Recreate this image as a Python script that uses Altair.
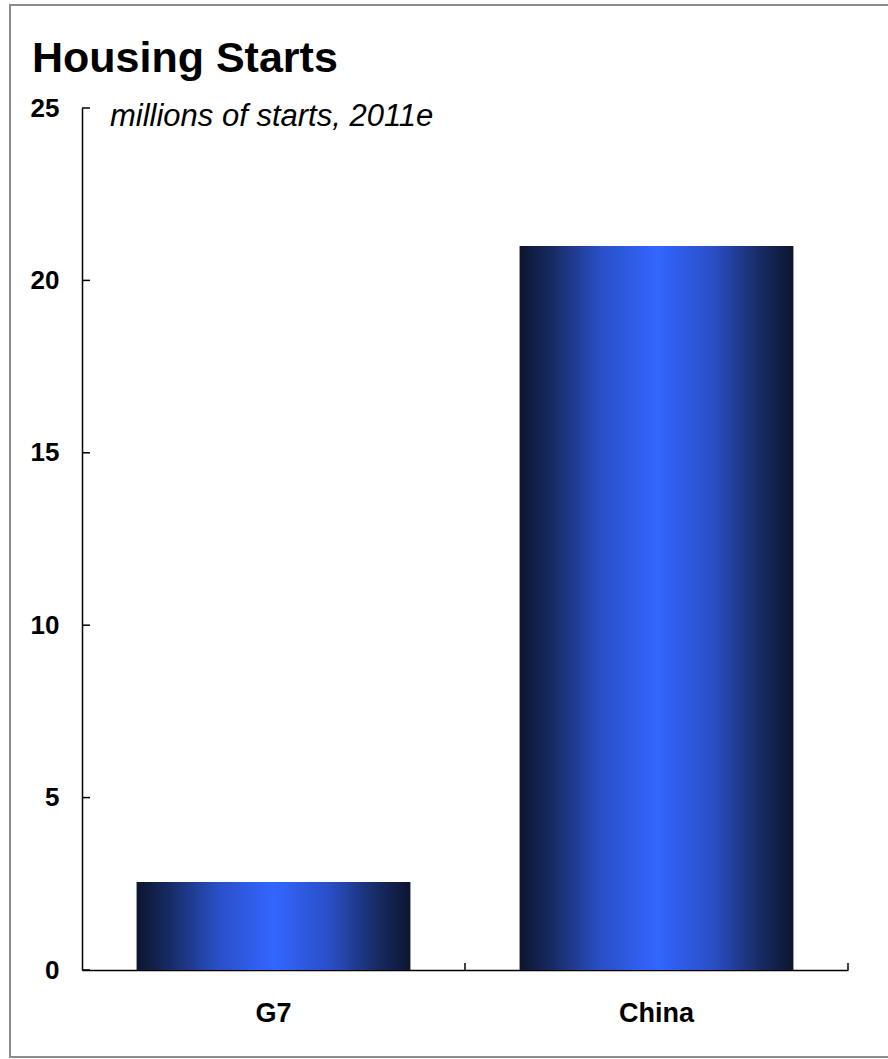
import altair as alt
import pandas as pd

# ---- data ----
categories = ["G7", "China"]
values = [2.55, 21.0]
y_ticks = [0, 5, 10, 15, 20, 25]
title_text = "Housing Starts"
subtitle_text = "millions of starts, 2011e"

FONT = "Liberation Sans, Arial, sans-serif"
W, H = 766, 862

bars_df = pd.DataFrame({"region": categories, "starts": values})
ticks_df = pd.DataFrame({"v": y_ticks})

x_scale = alt.Scale(domain=categories, paddingInner=0, paddingOuter=0)
y_scale = alt.Scale(domain=[0, 25], nice=False)

gradient = alt.LinearGradient(
    gradient="linear", x1=0, x2=1, y1=0, y2=0,
    stops=[
        alt.GradientStop(color="#0c1530", offset=0),
        alt.GradientStop(color="#172b63", offset=0.12),
        alt.GradientStop(color="#2a50c8", offset=0.3),
        alt.GradientStop(color="#3366ff", offset=0.5),
        alt.GradientStop(color="#2a50c8", offset=0.7),
        alt.GradientStop(color="#172b63", offset=0.88),
        alt.GradientStop(color="#0c1530", offset=1),
    ],
)

bars = alt.Chart(bars_df).mark_bar(
    color=gradient, width=alt.RelativeBandSize(0.715)
).encode(
    x=alt.X("region:N", scale=x_scale, sort=categories,
            axis=alt.Axis(title=None, labelAngle=0, ticks=False, tickSize=0,
                          labelPadding=30, labelFont=FONT, labelFontSize=27,
                          labelFontWeight="bold", labelColor="black",
                          domainColor="black", domainWidth=1.5, grid=False)),
    y=alt.Y("starts:Q", scale=y_scale,
            axis=alt.Axis(title=None, values=y_ticks, ticks=False, tickSize=0,
                          labelPadding=23, labelFont=FONT, labelFontSize=26,
                          labelFontWeight="bold", labelColor="black",
                          domainColor="black", domainWidth=1.5, grid=False)),
)

# inward tick marks on the x axis, at the band boundaries
x_ticks = alt.Chart(bars_df).mark_rule(color="black", strokeWidth=1.5).encode(
    x=alt.X("region:N", scale=x_scale, sort=categories, bandPosition=1),
    y=alt.value(H),
    y2=alt.value(H - 7),
)

# inward tick marks on the y axis
y_tick_marks = alt.Chart(ticks_df).mark_rule(color="black", strokeWidth=1.5).encode(
    y=alt.Y("v:Q", scale=y_scale),
    x=alt.value(0),
    x2=alt.value(8),
)

subtitle = alt.Chart(pd.DataFrame({"t": [subtitle_text]})).mark_text(
    align="left", baseline="alphabetic", font=FONT, fontSize=31,
    fontStyle="italic", color="black"
).encode(text="t:N", x=alt.value(28), y=alt.value(18))

title = alt.Chart(pd.DataFrame({"t": [title_text]})).mark_text(
    align="left", baseline="alphabetic", font=FONT, fontSize=43,
    fontWeight="bold", color="black"
).encode(text="t:N", x=alt.value(-50), y=alt.value(-36))

# outer frame: left, top and bottom edges (right edge lies off the page)
one = pd.DataFrame({"a": [0]})
frame_left = alt.Chart(one).mark_rule(color="#8c8c8c", strokeWidth=2).encode(
    x=alt.value(-72), y=alt.value(-104), y2=alt.value(950))
frame_top = alt.Chart(one).mark_rule(color="#8c8c8c", strokeWidth=2).encode(
    x=alt.value(-73), x2=alt.value(806), y=alt.value(-103))
frame_bottom = alt.Chart(one).mark_rule(color="#8c8c8c", strokeWidth=2).encode(
    x=alt.value(-73), x2=alt.value(806), y=alt.value(949))

chart = alt.layer(frame_left, frame_top, frame_bottom, bars, x_ticks,
                  y_tick_marks, subtitle, title).properties(
    width=W, height=H,
    autosize=alt.AutoSizeParams(type="none"),
    padding={"left": 82, "top": 108, "right": 40, "bottom": 89},
    background="white",
).configure_view(stroke=None)

chart.save("out.html", embed_options={"renderer": "svg", "actions": False})
